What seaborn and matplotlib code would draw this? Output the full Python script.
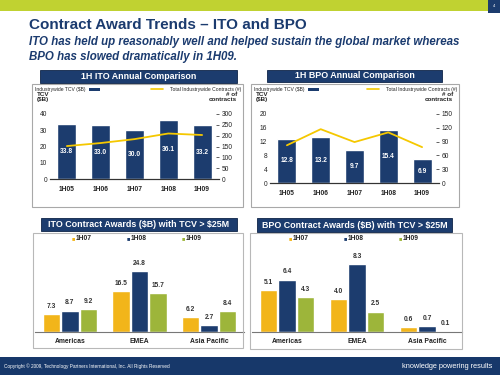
import numpy as np
import pandas as pd
import matplotlib
matplotlib.use("Agg")
import matplotlib.pyplot as plt
from matplotlib.patches import Rectangle
import seaborn as sns

# --- data ---
years = ["1H05", "1H06", "1H07", "1H08", "1H09"]
ito_tcv = [33.8, 33.0, 30.0, 36.1, 33.2]
ito_contracts = [152, 166, 184, 210, 203]
bpo_tcv = [12.8, 13.2, 9.7, 15.4, 6.9]
bpo_contracts = [82, 117, 89, 110, 78]

regions = ["Americas", "EMEA", "Asia Pacific"]
periods = ["1H07", "1H08", "1H09"]
ito_awards = {"1H07": [7.3, 16.5, 6.2], "1H08": [8.7, 24.8, 2.7], "1H09": [9.2, 15.7, 8.4]}
bpo_awards = {"1H07": [5.1, 4.0, 0.6], "1H08": [6.4, 8.3, 0.7], "1H09": [4.3, 2.5, 0.1]}

NAVY = "#1c3c6e"
GOLD = "#f2b51a"
OLIVE = "#9db53a"
LINE = "#f5c800"
GREEN_BAND = "#c0d231"
pal = {"1H07": GOLD, "1H08": NAVY, "1H09": OLIVE}

sns.set_theme(style="white")
plt.rcParams["font.family"] = ["Liberation Sans", "DejaVu Sans"]

W, H = 500, 375
fig = plt.figure(figsize=(5, 3.75), dpi=100)


def box(x0, y0, x1, y1):
    # pixel coords (top-left origin) -> figure fraction
    return [x0 / W, 1 - y1 / H, (x1 - x0) / W, (y1 - y0) / H]


def rect(x0, y0, x1, y1, **kw):
    fig.patches.append(Rectangle((x0 / W, 1 - y1 / H), (x1 - x0) / W, (y1 - y0) / H,
                                 transform=fig.transFigure, **kw))


def ftext(x, y, s, **kw):
    fig.text(x / W, 1 - y / H, s, **kw)


# slide decoration
rect(0, 0, 500, 11, facecolor=GREEN_BAND, edgecolor="none")
rect(488, 0, 500, 13, facecolor=NAVY, edgecolor="none")
ftext(494, 6, "4", color="white", fontsize=3, ha="center", va="center")
ftext(29, 25, "Contract Award Trends \u2013 ITO and BPO", color="#1b3b6f", fontsize=11,
      fontweight="bold", va="center")
ftext(29, 42, "ITO has held up reasonably well and helped sustain the global market whereas",
      color="#1b3b6f", fontsize=8.3, fontweight="bold", style="italic", va="center")
ftext(29, 57, "BPO has slowed dramatically in 1H09.",
      color="#1b3b6f", fontsize=8.3, fontweight="bold", style="italic", va="center")
rect(0, 357, 500, 375, facecolor="#17386a", edgecolor="none")
ftext(4, 366, "Copyright \u00a9 2009, Technology Partners International, Inc. All Rights Reserved",
      color="white", fontsize=3.4, va="center")
ftext(492, 366, "knowledge powering results", color="white", fontsize=5.3, ha="right", va="center")

# frames and headers
rect(32, 84, 243, 207, facecolor="none", edgecolor="#a8a8a8", lw=0.8)
rect(251, 84, 459, 207, facecolor="none", edgecolor="#a8a8a8", lw=0.8)
rect(33, 233, 243, 348, facecolor="none", edgecolor="#b8b8b8", lw=0.8)
rect(250, 233, 462, 349, facecolor="none", edgecolor="#b8b8b8", lw=0.8)
headers = [(40, 70, 237, 83, "1H ITO Annual Comparison"),
           (267, 70, 442, 82, "1H BPO Annual Comparison"),
           (41, 218, 237, 231, "ITO Contract Awards (\\$B) with TCV > \\$25M"),
           (257, 218, 452, 232, "BPO Contract Awards (\\$B) with TCV > \\$25M")]
for x0, y0, x1, y1, s in headers:
    rect(x0, y0, x1, y1, facecolor=NAVY, edgecolor="#0e2448", lw=0.6)
    ftext((x0 + x1) / 2, (y0 + y1) / 2, s, color="white", fontsize=6.4,
          fontweight="bold", ha="center", va="center")


def annual(ax_box, tcv, contracts, ymax, ystep, rmax, rstep, fx0, fx1):
    ax = fig.add_axes(box(*ax_box))
    sns.barplot(x=years, y=tcv, color=NAVY, width=0.56, saturation=1, ax=ax)
    ax.set_ylim(0, ymax)
    ax.set_xlim(-0.5, 4.5)
    ax.set_yticks(np.arange(0, ymax + 1, ystep))
    for i, v in enumerate(tcv):
        ax.text(i, v / 2, f"{v:.1f}", color="white", fontsize=4.8, fontweight="bold",
                ha="center", va="center")
    ax2 = ax.twinx()
    sns.lineplot(x=np.arange(5), y=contracts, color=LINE, lw=1.3, ax=ax2)
    ax2.set_ylim(0, rmax)
    ax2.set_yticks(np.arange(0, rmax + 1, rstep))
    for a in (ax, ax2):
        for s in ("top", "left", "right"):
            a.spines[s].set_visible(False)
        a.spines["bottom"].set_color("#333333")
        a.spines["bottom"].set_linewidth(0.8)
        a.tick_params(labelsize=4.8, colors="#222222", length=0, pad=2)
        a.set_xlabel("")
        a.set_ylabel("")
    ax2.tick_params(axis="y", length=2, width=0.5, direction="in", pad=2)
    for t in ax.get_xticklabels():
        t.set_fontweight("bold")
    ax.tick_params(axis="x", pad=5)
    # legend and axis titles
    top = 84
    ftext(fx0 + 3, top + 5, "Industrywide TCV (\\$B)", fontsize=3.6, color="#222222", va="center")
    rect(fx0 + 57, top + 3.5, fx0 + 68, top + 6.5, facecolor=NAVY, edgecolor="none")
    ftext(fx1 - 2, top + 5, "Total Industrywide Contracts (#)", fontsize=3.6, color="#222222",
          ha="right", va="center")
    fig.lines.append(plt.Line2D([(fx1 - 92) / W, (fx1 - 80) / W], [1 - (top + 5) / H] * 2,
                                transform=fig.transFigure, color=LINE, lw=1.2))
    ftext(fx0 + 5, top + 13, "TCV\n(\\$B)", fontsize=4.5, fontweight="bold", color="#222222",
          va="center", linespacing=1.0)
    ftext(fx1 - 6, top + 13, "# of\ncontracts", fontsize=4.5, fontweight="bold",
          color="#222222", ha="right", va="center", linespacing=1.0)


annual((50, 114, 219, 179), ito_tcv, ito_contracts, 40, 10, 300, 50, 32, 243)
annual((270, 114, 439, 183), bpo_tcv, bpo_contracts, 20, 4, 150, 30, 251, 459)


def awards(ax_box, data, ymax, fx0):
    df = pd.DataFrame([(r, p, data[p][i]) for p in periods for i, r in enumerate(regions)],
                      columns=["region", "period", "value"])
    ax = fig.add_axes(box(*ax_box))
    sns.barplot(data=df, x="region", y="value", hue="period", palette=pal, width=0.8,
                gap=0.06, saturation=1, legend=False, ax=ax)
    ax.set_ylim(0, ymax)
    ax.set_xlim(-0.5, 2.5)
    for c in ax.containers:
        ax.bar_label(c, fmt="%.1f", fontsize=4.8, fontweight="bold", color="#333333", padding=3)
    for s in ("top", "left", "right"):
        ax.spines[s].set_visible(False)
    ax.spines["bottom"].set_color("#777777")
    ax.spines["bottom"].set_linewidth(0.8)
    ax.set_yticks([])
    ax.tick_params(axis="x", labelsize=4.9, colors="#222222", length=0, pad=4)
    for t in ax.get_xticklabels():
        t.set_fontweight("bold")
    ax.set_xlabel("")
    ax.set_ylabel("")
    for k, p in enumerate(periods):
        x = fx0 + 40 + 55 * k
        ftext(x, 238.5, "\u25a0", color=pal[p], fontsize=4, ha="center", va="center")
        ftext(x + 3, 238.5, p, color="#222222", fontsize=4.8, fontweight="bold", va="center")


awards((35, 245, 244, 332), ito_awards, 87 / 2.46, 33)
awards((252, 245, 462, 332), bpo_awards, 87 / 8.2, 250)

fig.savefig("out.png", dpi=100)
